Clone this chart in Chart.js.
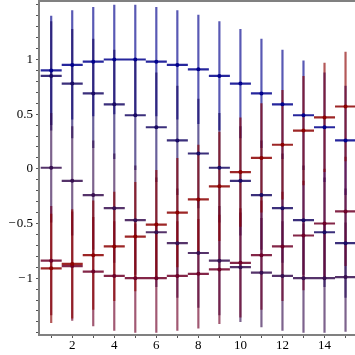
<!DOCTYPE html>
<html>
<head>
<meta charset="utf-8">
<script src="https://cdn.jsdelivr.net/npm/chart.js@4/dist/chart.umd.min.js"></script>
<style>
  html, body { margin: 0; padding: 0; background: #ffffff; }
  #wrap { width: 355px; height: 355px; }
</style>
</head>
<body>
<div id="wrap"><canvas id="c" width="355" height="355"></canvas></div>
<script>
// ---- data ----
const xValues = [1, 2, 3, 4, 5, 6, 7, 8, 9, 10, 11, 12, 13, 14, 15];
const series1 = [0.90, 0.95, 0.98, 1.00, 1.00, 0.98, 0.95, 0.91, 0.85, 0.78, 0.69, 0.59, 0.49, 0.38, 0.26];
const series2 = [0.85, 0.78, 0.69, 0.59, 0.49, 0.38, 0.26, 0.14, 0.01, -0.11, -0.24, -0.36, -0.47, -0.58, -0.68];
const series3 = [0.01, -0.11, -0.24, -0.36, -0.47, -0.58, -0.68, -0.77, -0.84, -0.90, -0.95, -0.98, -1.00, -1.00, -0.99];
const series4 = [-0.84, -0.89, -0.94, -0.98, -1.00, -1.00, -0.98, -0.96, -0.92, -0.86, -0.79, -0.71, -0.61, -0.50, -0.39];
const series5 = [-0.91, -0.87, -0.79, -0.71, -0.62, -0.51, -0.40, -0.28, -0.16, -0.03, 0.10, 0.22, 0.35, 0.47, 0.57];
const errY = 0.5;   // vertical error half-width
const errX = 0.5;   // horizontal error half-width
const xTickValues = [1, 2, 3, 4, 5, 6, 7, 8, 9, 10, 11, 12, 13, 14, 15];
const xTickLabels = ['', '2', '', '4', '', '6', '', '8', '', '10', '', '12', '', '14', ''];
const yTickValues = [-1.5, -1.4, -1.3, -1.2, -1.1, -1, -0.9, -0.8, -0.7, -0.6, -0.5, -0.4, -0.3, -0.2, -0.1, 0,
                     0.1, 0.2, 0.3, 0.4, 0.5, 0.6, 0.7, 0.8, 0.9, 1, 1.1, 1.2, 1.3, 1.4, 1.5];
const yTickLabels = { '1': '1', '0.5': '0.5', '0': '0', '-0.5': '\u2212\u200a0.5', '-1': '\u2212\u200a1' };

const allSeries = [series1, series2, series3, series4, series5];
const seriesRGB = [[0, 0, 140], [25, 10, 100], [55, 15, 80], [110, 0, 40], [140, 0, 0]];

function rgba(c, a) { return 'rgba(' + c[0] + ',' + c[1] + ',' + c[2] + ',' + a + ')'; }

function verticalSegments(vals) {
  const d = [];
  vals.forEach((v, i) => {
    d.push({ x: xValues[i], y: v - errY }, { x: xValues[i], y: v + errY }, { x: xValues[i], y: null });
  });
  return d;
}
function horizontalSegments(vals) {
  const d = [];
  vals.forEach((v, i) => {
    d.push({ x: xValues[i] - errX, y: v }, { x: xValues[i] + errX, y: v }, { x: xValues[i], y: null });
  });
  return d;
}

const datasets = [];
allSeries.forEach((vals, k) => {
  datasets.push({
    data: verticalSegments(vals), showLine: true, spanGaps: false,
    borderColor: rgba(seriesRGB[k], 0.65), borderWidth: 2.2, pointRadius: 0, order: 30 - k
  });
});
allSeries.forEach((vals, k) => {
  datasets.push({
    data: horizontalSegments(vals), showLine: true, spanGaps: false,
    borderColor: rgba(seriesRGB[k], 0.85), borderWidth: 2.2, pointRadius: 0, order: 20 - k
  });
});
allSeries.forEach((vals, k) => {
  datasets.push({
    data: vals.map((v, i) => ({ x: xValues[i], y: v })), showLine: false,
    pointRadius: 2, pointBackgroundColor: rgba(seriesRGB[k], 1), pointBorderWidth: 0,
    borderColor: rgba(seriesRGB[k], 1), order: 10 - k
  });
});

const axisColor = '#808080';
const tickFont = { family: "'Liberation Serif', 'DejaVu Serif', serif", size: 13 };

new Chart(document.getElementById('c'), {
  type: 'scatter',
  data: { datasets },
  options: {
    responsive: false,
    animation: false,
    layout: { padding: 0, autoPadding: false },
    plugins: { legend: { display: false }, tooltip: { enabled: false } },
    scales: {
      x: {
        type: 'linear', position: 'bottom', min: 0.42, max: 15.45,
        afterBuildTicks: (s) => { s.ticks = xTickValues.map(v => ({ value: v })); },
        afterFit: (s) => { s.height = 20; s.paddingLeft = 0; s.paddingRight = 0; },
        ticks: {
          color: '#000', font: tickFont, padding: 0, maxRotation: 0, autoSkip: false,
          callback: (v) => { const i = xTickValues.indexOf(v); return i >= 0 ? xTickLabels[i] : ''; }
        },
        grid: { drawOnChartArea: false, drawTicks: true, tickLength: 3, color: '#555', tickWidth: 1 },
        border: { display: true, color: axisColor, width: 2 }
      },
      xTop: {
        type: 'linear', position: 'top', min: 0.42, max: 15.45,
        afterFit: (s) => { s.height = 1; s.paddingLeft = 0; s.paddingRight = 0; },
        ticks: { display: false },
        grid: { drawOnChartArea: false, drawTicks: false },
        border: { display: true, color: axisColor, width: 2 }
      },
      y: {
        type: 'linear', position: 'left', min: -1.52, max: 1.535,
        afterBuildTicks: (s) => { s.ticks = yTickValues.map(v => ({ value: v })); },
        afterFit: (s) => { s.width = 39; s.paddingTop = 0; s.paddingBottom = 0; },
        ticks: {
          color: '#000', font: tickFont, padding: 3, autoSkip: false,
          callback: (v) => { const key = String(Math.round(v * 10) / 10); return yTickLabels[key] || ''; }
        },
        grid: { drawOnChartArea: false, drawTicks: true, tickLength: 3, color: '#555', tickWidth: 1 },
        border: { display: true, color: axisColor, width: 2 }
      }
    }
  }
});
</script>
</body>
</html>
